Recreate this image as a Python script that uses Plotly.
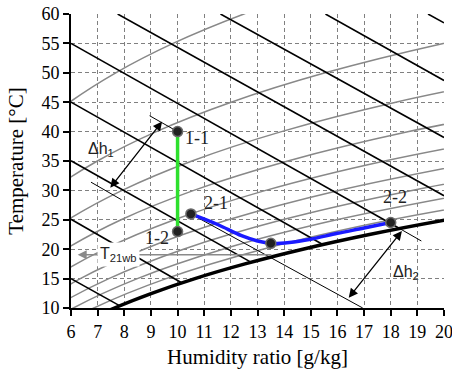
import plotly.graph_objects as go

# ---------------- data ----------------
x_ticks = list(range(6, 21))
y_ticks = list(range(10, 61, 5))

# constant relative-humidity curves (humidity ratio g/kg at temperature degC)
rh10_T = [40, 45, 50, 55, 60, 65]
rh10_w = [4.57, 5.95, 7.68, 9.83, 12.49, 15.75]
rh20_T = [25, 30, 35, 40, 45, 50, 55, 60]
rh20_w = [3.92, 5.26, 6.99, 9.20, 12.01, 15.54, 19.97, 25.49]
rh30_T = [20, 25, 30, 35, 40, 45, 50]
rh30_w = [4.34, 5.89, 7.92, 10.54, 13.90, 18.19, 23.61]
rh40_T = [15, 20, 25, 30, 35, 40, 45]
rh40_w = [4.22, 5.80, 7.88, 10.61, 14.14, 18.68, 24.49]
rh50_T = [10, 15, 20, 25, 30, 35, 40]
rh50_w = [3.79, 5.28, 7.26, 9.88, 13.31, 17.77, 23.52]
rh60_T = [10, 15, 20, 25, 30, 35]
rh60_w = [4.56, 6.35, 8.74, 11.90, 16.05, 21.45]
rh70_T = [5, 10, 15, 20, 25, 30, 35]
rh70_w = [3.77, 5.32, 7.42, 10.22, 13.93, 18.80, 25.17]
rh80_T = [5, 10, 15, 20, 25, 30]
rh80_w = [4.32, 6.09, 8.49, 11.70, 15.97, 21.58]
rh90_T = [5, 10, 15, 20, 25, 30]
rh90_w = [4.86, 6.86, 9.57, 13.20, 18.02, 24.38]
sat_T = [5, 7.5, 10, 12.5, 15, 17.5, 20, 22.5, 25, 27.5]
sat_w = [5.40, 6.44, 7.63, 9.03, 10.65, 12.53, 14.70, 17.20, 20.09, 23.39]

# constant-enthalpy lines (start / end points)
h_w_start = [6, 6, 6, 6, 6, 7.75, 11.61, 15.55, 19.40]
h_T_start = [15.0, 25.1, 35.05, 45.0, 55.0, 60, 60, 60, 60]
h_w_end = [7.82, 10.15, 12.75, 15.45, 18.3, 20, 20, 20, 20]
h_T_end = [10.4, 14.3, 17.8, 20.8, 23.6, 29.1, 39.0, 48.7, 58.5]

# thin helper enthalpy lines for the delta-h annotations
thin_w = [[8.95, 10.0], [6.75, 7.9], [10.5, 16.95], [18.3, 19.15]]
thin_T = [[42.7, 40.0], [31.4, 28.4], [26.0, 10.0], [23.6, 21.4]]

# processes
green_w = [10, 10]
green_T = [40, 23]
blue_w = [10.5, 11.5, 12.4, 13.0, 13.5, 14.2, 15.0, 16.0, 17.0, 18.0]
blue_T = [26.0, 24.2, 22.3, 21.4, 21.0, 21.15, 21.7, 22.7, 23.6, 24.55]

# state points and labels
state_w = [10, 10, 10.5, 13.5, 18]
state_T = [40, 23, 26, 21, 24.55]
label_text = ["1-1", "1-2", "2-1", "2-2"]
label_w = [10.74, 9.21, 11.46, 18.15]
label_T = [38.9, 21.9, 27.8, 28.9]

T_wb = 19.05
wb_w = [13.58, 6.25]

# ---------------- figure ----------------
fig = go.Figure()

rh_sets = [(rh10_w, rh10_T), (rh20_w, rh20_T), (rh30_w, rh30_T), (rh40_w, rh40_T),
           (rh50_w, rh50_T), (rh60_w, rh60_T), (rh70_w, rh70_T), (rh80_w, rh80_T),
           (rh90_w, rh90_T)]
for w, T in rh_sets:
    fig.add_trace(go.Scatter(x=w, y=T, mode="lines", line=dict(color="#888888", width=1.5, shape="spline"),
                             hoverinfo="skip", showlegend=False))

for i in range(len(h_w_start)):
    fig.add_trace(go.Scatter(x=[h_w_start[i], h_w_end[i]], y=[h_T_start[i], h_T_end[i]], mode="lines",
                             line=dict(color="black", width=1.6), hoverinfo="skip", showlegend=False))

for w, T in zip(thin_w, thin_T):
    fig.add_trace(go.Scatter(x=w, y=T, mode="lines", line=dict(color="black", width=1),
                             hoverinfo="skip", showlegend=False))

fig.add_trace(go.Scatter(x=sat_w, y=sat_T, mode="lines", line=dict(color="black", width=3.5, shape="spline"),
                         hoverinfo="skip", showlegend=False))

fig.add_trace(go.Scatter(x=green_w, y=green_T, mode="lines", line=dict(color="#2ee02e", width=3.5),
                         showlegend=False))
fig.add_trace(go.Scatter(x=blue_w, y=blue_T, mode="lines", line=dict(color="#1a1aff", width=3.5, shape="spline"),
                         showlegend=False))
fig.add_trace(go.Scatter(x=state_w, y=state_T, mode="markers",
                         marker=dict(size=10, color="#222222", line=dict(color="#6a6a6a", width=1.5)),
                         showlegend=False))

serif = "Times New Roman, Liberation Serif, serif"
sans = "Arial, Liberation Sans, sans-serif"
ann = []
# wet-bulb arrow
ann.append(dict(x=wb_w[1], y=T_wb, ax=wb_w[0], ay=T_wb, xref="x", yref="y", axref="x", ayref="y",
                text="", showarrow=True, arrowhead=2, arrowsize=1.2, arrowwidth=1.5, arrowcolor="#8a8a8a"))
ann.append(dict(x=7.8, y=19.1, xref="x", yref="y", text="T<sub>21wb</sub>", showarrow=False,
                bgcolor="white", borderpad=2, font=dict(family=sans, size=16, color="#222")))
# delta-h arrows
ann.append(dict(x=9.42, y=41.7, ax=7.43, ay=30.2, xref="x", yref="y", axref="x", ayref="y",
                text="", showarrow=True, arrowhead=2, arrowside="end+start", arrowsize=1.4,
                arrowwidth=1.3, arrowcolor="black"))
ann.append(dict(x=18.42, y=23.1, ax=16.38, ay=11.5, xref="x", yref="y", axref="x", ayref="y",
                text="", showarrow=True, arrowhead=2, arrowside="end+start", arrowsize=1.4,
                arrowwidth=1.3, arrowcolor="black"))
ann.append(dict(x=7.12, y=36.9, xref="x", yref="y", text="Δh<sub>1</sub>", showarrow=False,
                font=dict(family=sans, size=16, color="#222")))
ann.append(dict(x=18.59, y=16.1, xref="x", yref="y", text="Δh<sub>2</sub>", showarrow=False,
                font=dict(family=sans, size=16, color="#222")))
for t, w, T in zip(label_text, label_w, label_T):
    ann.append(dict(x=w, y=T, xref="x", yref="y", text=t, showarrow=False,
                    font=dict(family=serif, size=18, color="#222")))

fig.update_layout(
    width=452, height=369,
    margin=dict(l=71, r=8, t=14, b=61, autoexpand=False),
    plot_bgcolor="white", paper_bgcolor="white",
    annotations=ann,
    font=dict(family=serif, size=18, color="black"),
)
common = dict(ticks="outside", ticklen=6, tickwidth=1.5, tickcolor="black",
              showline=True, linecolor="black", linewidth=2, showgrid=True, gridcolor="#808080",
              griddash="4px,3px", gridwidth=1, zeroline=False, automargin=False,
              ticklabeloverflow="allow",
              tickfont=dict(family=serif, size=18, color="black"))
fig.update_xaxes(range=[6, 20], tickvals=x_ticks, **common,
                 title=dict(text="Humidity ratio [g/kg]", font=dict(family=serif, size=21), standoff=12))
fig.update_yaxes(range=[10, 60], tickvals=y_ticks, **common,
                 title=dict(text="Temperature [°C]", font=dict(family=serif, size=21), standoff=12))

fig.write_html("out.html", config={"displayModeBar": False},
               post_script="document.body.style.margin='0';document.body.style.padding='0';"
                           "document.body.style.overflow='hidden';")
